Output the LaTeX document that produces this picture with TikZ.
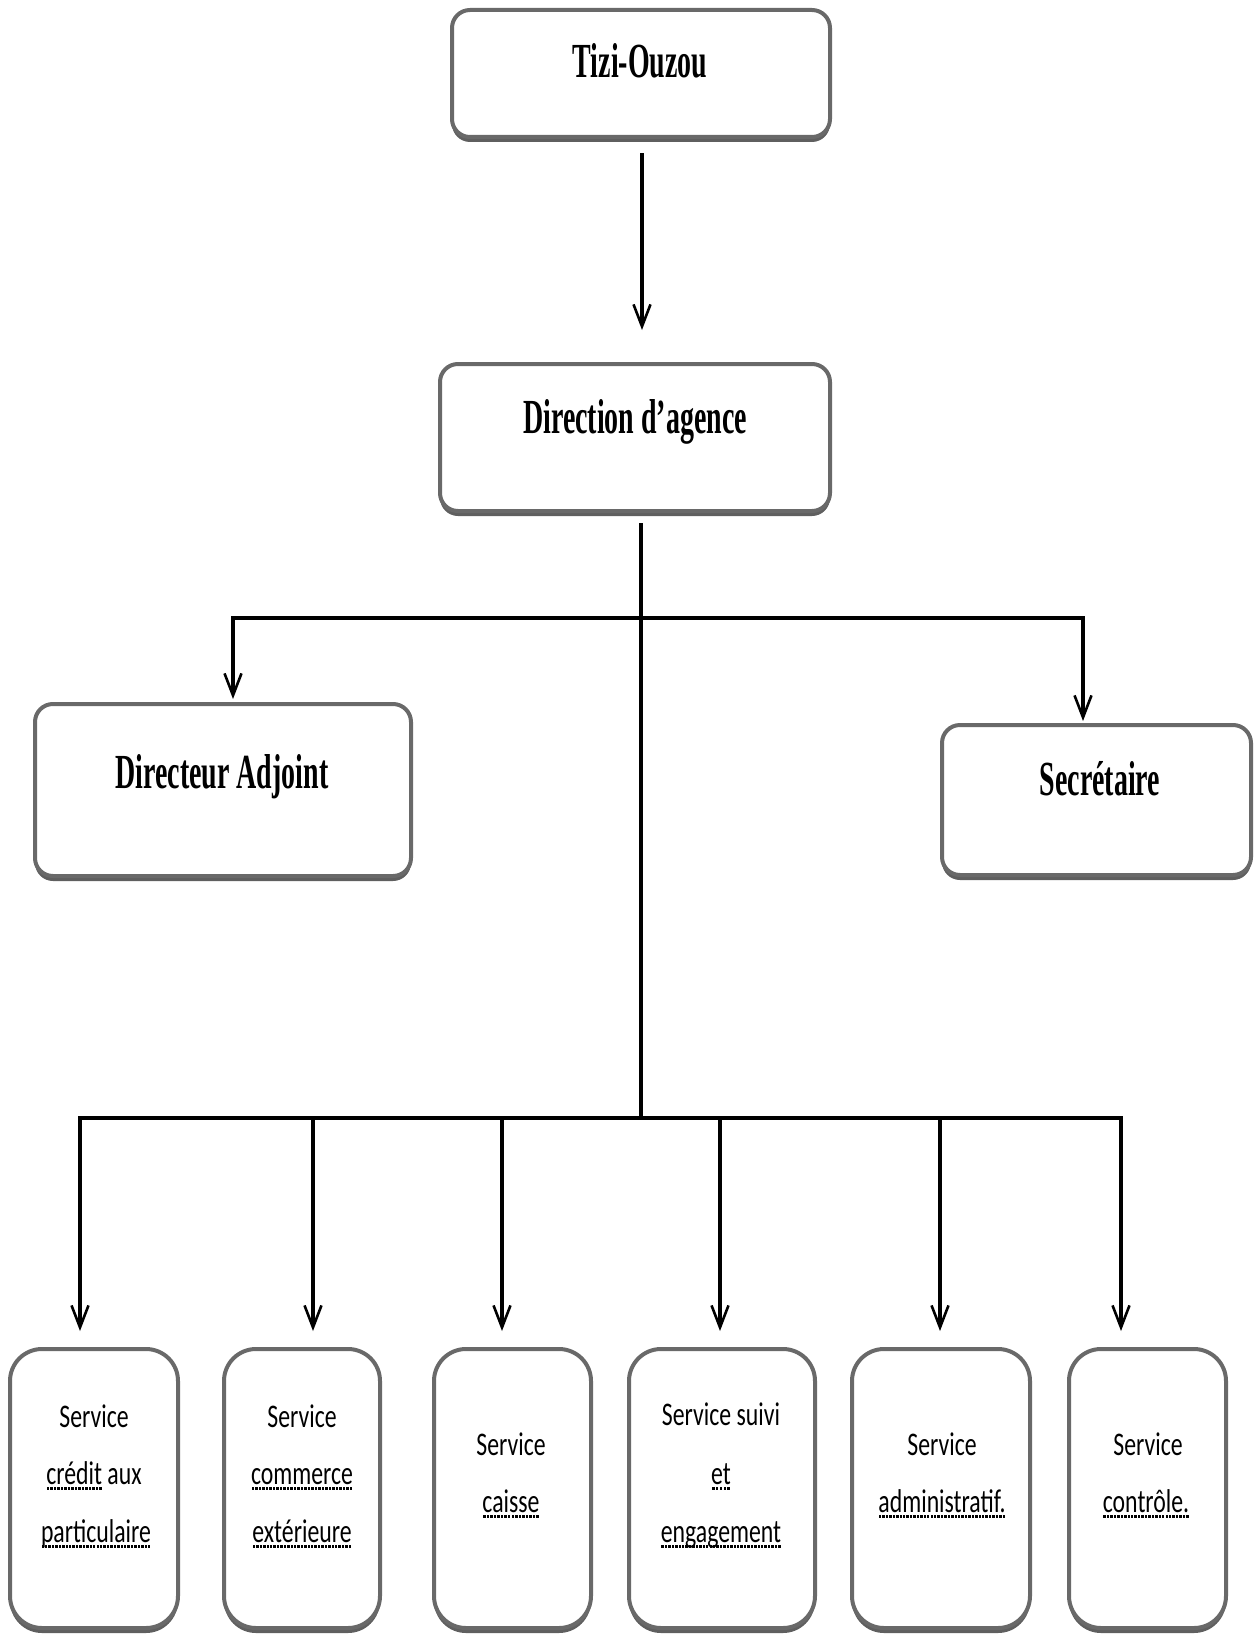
\documentclass[tikz,border=0pt]{standalone}
\usepackage{fontspec}
\setmainfont{Liberation Serif}
\newfontfamily\headfont[FakeStretch=0.57]{Liberation Serif}
\newfontfamily\servfont[FakeStretch=0.72]{Carlito}
\usetikzlibrary{arrows.meta,shadows}
\definecolor{boxgray}{RGB}{105,105,105}
\definecolor{shadegray}{RGB}{95,95,95}

\newsavebox\squigbox
\newcommand\squig[1]{\sbox\squigbox{#1}\rlap{\raisebox{-5.5pt}{\hbox to \wd\squigbox{\xleaders\hbox to 3.4pt{\hss\rule{2.4pt}{2.4pt}\hss}\hfill}}}\usebox\squigbox}

\tikzset{
  topbox/.style={draw=boxgray, line width=4pt, fill=white, rounded corners=18pt, inner sep=0pt,
    drop shadow={shadow xshift=0pt, shadow yshift=-5pt, fill=shadegray, opacity=1}},
  servbox/.style={topbox, rounded corners=32pt},
  headtxt/.style={font=\headfont\bfseries\fontsize{49}{51}\selectfont, anchor=base, inner sep=0pt},
  servtxt/.style={font=\servfont\fontsize{33}{36}\selectfont, anchor=base, inner sep=0pt},
  conn/.style={line width=3.2pt, draw=black},
  arr/.style={conn, -{Straight Barb[length=22pt,width=17pt,line width=2.6pt]}},
}

\begin{document}
\begin{tikzpicture}[x=1pt,y=-1pt]
\useasboundingbox (0,0) rectangle (1256,1635);

% boxes
\node[topbox, minimum width=378pt, minimum height=127pt] (tizi) at (641,73.5) {};
\node[topbox, minimum width=390pt, minimum height=147pt] (dir) at (635,437.5) {};
\node[topbox, minimum width=376pt, minimum height=172pt] (adj) at (223,790) {};
\node[topbox, minimum width=309pt, minimum height=150pt] (sec) at (1096.5,800) {};

\node[servbox, minimum width=168pt, minimum height=279pt] (s1) at (94,1488.5) {};
\node[servbox, minimum width=156pt, minimum height=279pt] (s2) at (302,1488.5) {};
\node[servbox, minimum width=157pt, minimum height=279pt] (s3) at (512.5,1488.5) {};
\node[servbox, minimum width=186pt, minimum height=279pt] (s4) at (722,1488.5) {};
\node[servbox, minimum width=178pt, minimum height=279pt] (s5) at (941,1488.5) {};
\node[servbox, minimum width=157pt, minimum height=279pt] (s6) at (1147.5,1488.5) {};

% header texts
\node[headtxt] (tiziT) at (640,78) {Tizi-Ouzou};
\node[headtxt] (dirT) at (635,433) {Direction d’agence};
\node[headtxt] (adjT) at (222,788) {Directeur Adjoint};
\node[headtxt] (secT) at (1100,795) {Secrétaire};

% service texts
\node[servtxt] (s1a) at (94,1427) {Service};
\node[servtxt] (s1b) at (94,1484) {\squig{crédit} aux};
\node[servtxt] (s1c) at (96,1542) {\squig{particulaire}};

\node[servtxt] (s2a) at (302,1427) {Service};
\node[servtxt] (s2b) at (302,1484) {\squig{commerce}};
\node[servtxt] (s2c) at (302,1542) {\squig{extérieure}};

\node[servtxt] (s3a) at (511,1455) {Service};
\node[servtxt] (s3b) at (511,1512) {\squig{caisse}};

\node[servtxt] (s4a) at (721,1425) {Service suivi};
\node[servtxt] (s4b) at (721,1484) {\squig{et}};
\node[servtxt] (s4c) at (721,1542) {\squig{engagement}};

\node[servtxt] (s5a) at (942,1455) {Service};
\node[servtxt] (s5b) at (942,1512) {\squig{administratif.}};

\node[servtxt] (s6a) at (1148,1455) {Service};
\node[servtxt] (s6b) at (1146,1512) {\squig{contrôle.}};

% connector points
\coordinate (tiziOut) at (642,153);
\coordinate (dirIn) at (642,330);
\coordinate (dirOut) at (641,523);
\coordinate (hubA) at (641,618);
\coordinate (hubB) at (641,1118);
\coordinate (adjIn) at (233,699);
\coordinate (secIn) at (1083,721);
\coordinate (s1in) at (80,1331);
\coordinate (s2in) at (313,1331);
\coordinate (s3in) at (502,1331);
\coordinate (s4in) at (720,1331);
\coordinate (s5in) at (940,1331);
\coordinate (s6in) at (1121,1331);

% connectors
\draw[arr] (tiziOut) -- (dirIn);
\draw[conn] (dirOut) -- (hubB);
\draw[arr] (hubA) -| (adjIn);
\draw[arr] (hubA) -| (secIn);
\foreach \t in {s1in,s2in,s3in,s4in,s5in,s6in}
  \draw[arr] (hubB) -| (\t);
\end{tikzpicture}
\end{document}
